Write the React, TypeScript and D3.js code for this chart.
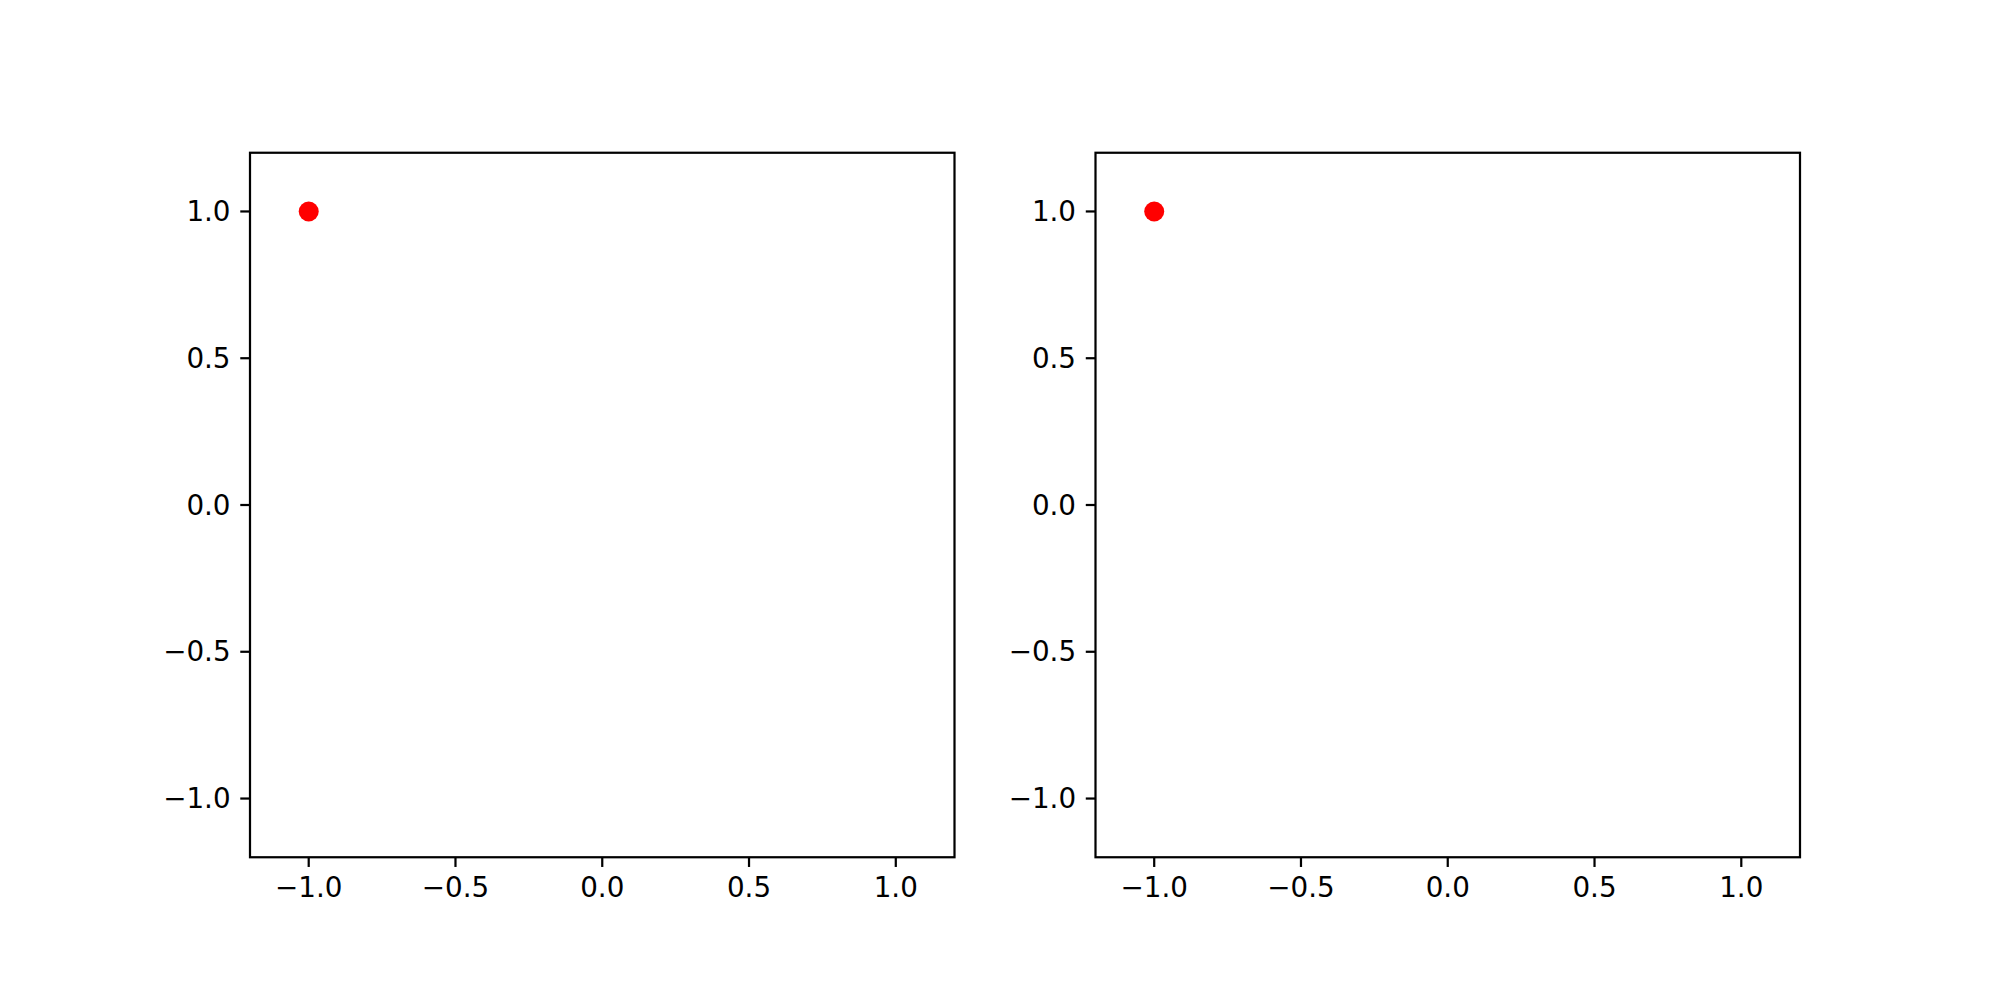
import React from "react";
import * as d3 from "d3";

const panels = ["left", "right"];
const pointX = [-1.0];
const pointY = [1.0];
const tickValues = [-1.0, -0.5, 0.0, 0.5, 1.0];
const domain: [number, number] = [-1.2, 1.2];

const W = 2000;
const H = 1000;
const size = 704.5;
const top = 152.75;
const lefts = [250, 1095.5];
const dpiScale = 200 / 72;
const fontSize = 10 * dpiScale;
const tickLen = 3.5 * dpiScale;
const tickPad = 3.5 * dpiScale;
const lw = 0.8 * dpiScale;

const fmt = (v: number) => {
  const s = v.toFixed(1);
  return s.startsWith("-") ? "\u2212" + s.slice(1) : s;
};

function Panel({ x0 }: { x0: number }) {
  const xs = d3.scaleLinear().domain(domain).range([x0, x0 + size]);
  const ys = d3.scaleLinear().domain(domain).range([top + size, top]);
  return (
    <g>
      {pointX.map((px, i) => (
        <circle key={i} cx={xs(px)} cy={ys(pointY[i])} r={10} fill="#ff0000" />
      ))}
      <rect x={x0} y={top} width={size} height={size} fill="none" stroke="#000" strokeWidth={lw} />
      {tickValues.map((t) => (
        <g key={"x" + t}>
          <line x1={xs(t)} x2={xs(t)} y1={top + size} y2={top + size + tickLen} stroke="#000" strokeWidth={lw} />
          <text x={xs(t)} y={top + size + tickLen + tickPad} textAnchor="middle" dominantBaseline="hanging" fontSize={fontSize} fontFamily="DejaVu Sans" fill="#000">
            {fmt(t)}
          </text>
        </g>
      ))}
      {tickValues.map((t) => (
        <g key={"y" + t}>
          <line x1={x0 - tickLen} x2={x0} y1={ys(t)} y2={ys(t)} stroke="#000" strokeWidth={lw} />
          <text x={x0 - tickLen - tickPad} y={ys(t)} textAnchor="end" dominantBaseline="central" fontSize={fontSize} fontFamily="DejaVu Sans" fill="#000">
            {fmt(t)}
          </text>
        </g>
      ))}
    </g>
  );
}

export default function App() {
  return (
    <svg width={W} height={H} style={{ position: "absolute", left: 0, top: 0, background: "#fff" }}>
      <rect width={W} height={H} fill="#fff" />
      {panels.map((p, i) => (
        <Panel key={p} x0={lefts[i]} />
      ))}
    </svg>
  );
}
